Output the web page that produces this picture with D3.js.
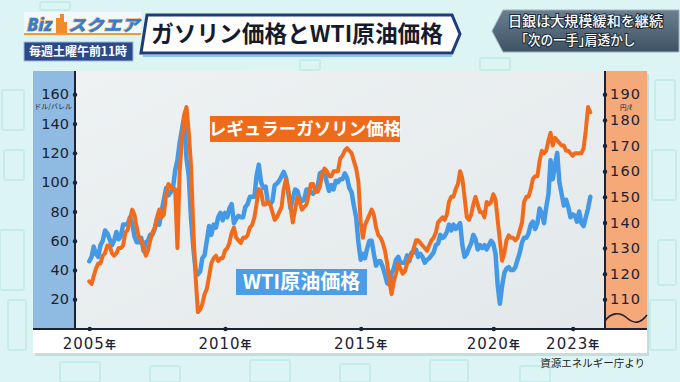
<!DOCTYPE html>
<html><head><meta charset="utf-8">
<script src="https://cdn.jsdelivr.net/npm/d3@7"></script>
<style>
html,body{margin:0;padding:0;background:#dcf5f4;}
svg{display:block;font-family:"Noto Sans CJK JP","Noto Sans",sans-serif;}
</style></head><body>
<svg id="c" width="680" height="382"></svg>
<script>
// ---- data (monthly, Jan 2005 .. Sep 2023) ----
const firstMonth = [2005, 0];
// WTI crude, USD/barrel (left axis)
const wti = [
  46, 49, 56, 51, 49, 57, 60, 67, 65, 61, 57, 60,
  66, 61, 63, 71, 71, 71, 76, 72, 63, 59, 59, 62,
  53, 59, 60, 64, 64, 68, 75, 71, 80, 88, 96, 91,
  93, 96,108,115,127,136,145,116,104, 75, 55, 40,
  37, 39, 48, 50, 60, 70, 64, 71, 69, 76, 79, 74,
  79, 76, 82, 85, 72, 75, 77, 76, 76, 83, 85, 90,
  90, 90,104,112,100, 96, 97, 86, 85, 87, 98, 99,
 101,104,107,103, 93, 82, 89, 95, 94, 89, 87, 88,
  95, 95, 93, 92, 95, 97,106,107,106,100, 94, 98,
  95,101,100,102,102,106,103, 96, 93, 84, 76, 59,
  47, 51, 48, 55, 60, 60, 51, 43, 46, 46, 42, 37,
  31, 30, 38, 41, 47, 49, 45, 45, 45, 50, 46, 52,
  52, 54, 49, 51, 49, 45, 47, 48, 50, 52, 57, 58,
  64, 62, 63, 66, 71, 67, 71, 68, 70, 72, 57, 49,
  51, 55, 58, 64, 61, 54, 57, 55, 57, 54, 57, 60,
  58, 51, 30, 17, 29, 38, 41, 42, 40, 40, 42, 47,
  52, 59, 62, 62, 65, 71, 73, 68, 72, 82, 79, 72,
  83, 92,115,102,112,120,100, 92, 84, 88, 83, 76,
  78, 77, 73, 80, 72, 70, 76, 82, 90
];
// Regular gasoline, yen/litre (right axis)
const gasoline = [
 117,116,119,122,124,124,127,128,131,131,128,127,
 128,130,130,131,136,137,141,145,143,138,134,133,
 130,127,129,133,136,138,142,145,142,143,151,155,
 154,153,153,130,160,172,182,185,175,162,137,119,
 105,106,108,112,114,119,124,126,127,125,126,126,
 129,130,132,136,138,134,133,132,134,134,135,138,
 139,142,147,153,152,147,147,148,147,144,141,142,
 144,146,153,157,153,146,140,145,150,148,145,146,
 147,151,155,155,152,152,154,159,161,160,158,158,
 160,160,160,165,166,168,169,168,167,164,161,156,
 140,134,139,141,143,145,143,138,135,134,132,129,
 124,117,112,117,120,124,122,120,121,124,126,127,
 130,133,133,132,131,130,129,131,133,134,136,140,
 141,142,141,143,148,150,150,153,155,160,157,150,
 142,141,143,147,150,147,144,144,142,148,147,148,
 151,149,141,133,125,128,133,135,134,134,133,134,
 137,140,148,150,150,153,157,158,158,164,168,167,
 168,172,175,170,173,172,171,170,170,168,168,167,
 166,167,167,167,167,169,176,185,183
];
const wtiTicks = [20, 40, 60, 80, 100, 120, 140, 160];
const gasTicks = [110, 120, 130, 140, 150, 160, 170, 180, 190];
const yearTicks = [2005, 2010, 2015, 2020, 2023];
const titleText = "ガソリン価格とWTI原油価格";
const headline = ["日銀は大規模緩和を継続", "｢次の一手｣肩透かし"];
const wtiLabel = "WTI原油価格";
const gasLabel = "レギュラーガソリン価格";

// ---- layout ----
const svg = d3.select("#c");
const P = {l: 33, r: 647, t: 71, b: 329, bottom: 353, ax: 75, axR: 605};
const ink = "#1b2235";
const blue = "#4399e6", orange = "#f06c1c";

const defs = svg.append("defs");
const g1 = defs.append("linearGradient").attr("id","plotbg").attr("x1",0).attr("y1",0).attr("x2",1).attr("y2",1);
g1.append("stop").attr("offset","0").attr("stop-color","#eef2f3");
g1.append("stop").attr("offset","1").attr("stop-color","#e3e8ea");
const g2 = defs.append("linearGradient").attr("id","slate").attr("x1",0).attr("y1",0).attr("x2",0).attr("y2",1);
g2.append("stop").attr("offset","0").attr("stop-color","#6b7f8f");
g2.append("stop").attr("offset","1").attr("stop-color","#3d5263");

// background decoration (faint building outlines)
const deco = svg.append("g").attr("fill","none").attr("stroke","#c4ece8").attr("stroke-width",1.8);
[[2,90,22,40],[4,150,20,30],[0,230,24,60],[8,300,18,50],[655,80,20,40],[652,150,24,50],[658,240,18,45],[650,300,26,50],
 [60,362,40,20],[150,366,30,16],[250,360,40,22],[340,364,30,18],[430,360,38,22],[520,366,30,16],
 [40,2,30,8],[480,58,30,12],[300,60,20,10]].forEach(r=>{
  deco.append("rect").attr("x",r[0]).attr("y",r[1]).attr("width",r[2]).attr("height",r[3]).attr("rx",2);
});

// panel
svg.append("rect").attr("x",P.l+2).attr("y",P.t+3).attr("width",P.r-P.l).attr("height",P.bottom-P.t)
  .attr("fill","rgba(60,110,110,0.16)");
svg.append("rect").attr("x",P.l).attr("y",P.t).attr("width",P.r-P.l).attr("height",P.bottom-P.t).attr("fill","#ffffff");
svg.append("rect").attr("x",P.l).attr("y",P.t).attr("width",P.ax-P.l).attr("height",P.b-P.t).attr("fill","#8fbbe2");
svg.append("rect").attr("x",P.axR).attr("y",P.t).attr("width",P.r-P.axR).attr("height",P.b-P.t).attr("fill","#f5a878");
svg.append("rect").attr("x",P.ax).attr("y",P.t).attr("width",P.axR-P.ax).attr("height",P.b-P.t).attr("fill","url(#plotbg)");

// scales
const dates = wti.map((_, i) => new Date(firstMonth[0], firstMonth[1] + i, 1));
const x = d3.scaleTime().domain(yearTicks.map(y => new Date(y, 0, 1))).range([89.3, 225, 360.7, 493.3, 572.7]);
const yL = d3.scaleLinear().domain([20, 160]).range([299.3, 94.3]);
const yR = d3.scaleLinear().domain([110, 190]).range([299.3, 94.3]);

// lines
const plot = svg.append("g");
plot.append("path").datum(wti.map((v,i)=>[dates[i],v]))
  .attr("fill","none").attr("stroke",blue).attr("stroke-width",4.5).attr("stroke-linejoin","round").attr("stroke-linecap","round")
  .attr("d", d3.line().x(d=>x(d[0])).y(d=>yL(d[1])));
plot.append("path").datum(gasoline.map((v,i)=>[dates[i],v]))
  .attr("fill","none").attr("stroke",orange).attr("stroke-width",4).attr("stroke-linejoin","round").attr("stroke-linecap","round")
  .attr("d", d3.line().x(d=>x(d[0])).y(d=>yR(d[1])));

// series labels
function boxLabel(txt, cx, cy, w, h, fill, fs){
  const g = svg.append("g");
  g.append("rect").attr("x",cx-w/2).attr("y",cy-h/2).attr("width",w).attr("height",h).attr("fill",fill);
  g.append("text").attr("x",cx).attr("y",cy).attr("dy","0.36em").attr("text-anchor","middle")
   .attr("fill","#fff").attr("font-weight",700).attr("font-size",fs).text(txt);
}
boxLabel(gasLabel, 305, 129, 190, 26, "#ee6b1b", 17.5);
boxLabel(wtiLabel, 301.5, 282, 131, 26, "#4a9de6", 20);

// axes lines
const axG = svg.append("g").attr("stroke",ink).attr("stroke-width",2);
axG.append("line").attr("x1",P.ax).attr("x2",P.ax).attr("y1",P.t).attr("y2",P.b);
axG.append("line").attr("x1",P.axR).attr("x2",P.axR).attr("y1",P.t).attr("y2",P.b);
axG.append("line").attr("x1",P.l).attr("x2",P.r).attr("y1",P.b).attr("y2",P.b);

function styleAxis(g, fs, ls){
  g.select(".domain").remove();
  g.selectAll(".tick line").remove();
  g.selectAll("text").attr("font-family","'DejaVu Sans',sans-serif").attr("font-size",fs)
    .attr("fill",ink).attr("letter-spacing",ls);
}
const aL = svg.append("g").attr("transform",`translate(${P.ax},0)`)
  .call(d3.axisLeft(yL).tickValues(wtiTicks).tickSize(0).tickPadding(6));
styleAxis(aL, 14.5, 0);
aL.selectAll(".tick").append("circle").attr("r",2.2).attr("fill",ink);

const aR = svg.append("g").attr("transform",`translate(${P.axR},0)`)
  .call(d3.axisRight(yR).tickValues(gasTicks).tickSize(0).tickPadding(5));
styleAxis(aR, 14.5, 1.2);
aR.selectAll(".tick").append("circle").attr("r",2.2).attr("fill",ink);

const aB = svg.append("g").attr("transform",`translate(0,${P.b})`)
  .call(d3.axisBottom(x).tickValues(yearTicks.map(y=>new Date(y,0,1))).tickSize(0).tickPadding(9));
styleAxis(aB, 15, 1);
aB.selectAll(".tick text").each(function(d){
  const t = d3.select(this); t.text("");
  t.append("tspan").text(d.getFullYear());
  t.append("tspan").attr("font-family","'Noto Sans CJK JP',sans-serif").attr("font-size",11).attr("font-weight",700).text("年");
});
aB.selectAll(".tick").append("circle").attr("r",2.2).attr("fill",ink);

// units
svg.append("text").attr("x",72).attr("y",109).attr("text-anchor","end").attr("font-size",7).attr("fill",ink).text("ドル/バレル");
svg.append("text").attr("x",626).attr("y",109.5).attr("text-anchor","middle").attr("font-size",6.5).attr("fill",ink).text("円/ℓ");

// axis break on right
svg.append("path").attr("d","M605,321 C611,312 620,312 627,318 S640,324 647,315")
  .attr("fill","none").attr("stroke",ink).attr("stroke-width",1.6);

// source
svg.append("text").attr("x",645).attr("y",367).attr("text-anchor","end").attr("font-size",10.5).attr("fill","#222").text("資源エネルギー庁より");

// ---- header ----
// title box
svg.append("polygon").attr("points","147,15 452,15 460,34 452,53 141,53")
  .attr("fill","#fff").attr("stroke","#1e3d78").attr("stroke-width",3);
svg.append("line").attr("x1",143).attr("x2",452).attr("y1",56).attr("y2",56).attr("stroke","#8fc3ea").attr("stroke-width",2);
svg.append("text").attr("x",151).attr("y",42).attr("font-size",23).attr("font-weight",700).attr("fill","#161b2b")
  .attr("textLength",292).attr("lengthAdjust","spacingAndGlyphs").text(titleText);

// logo
svg.append("rect").attr("x",24).attr("y",12).attr("width",117).attr("height",22).attr("fill","#f2f9fd");
svg.append("rect").attr("x",24).attr("y",33).attr("width",117).attr("height",2).attr("fill","#f29a30");
svg.append("text").attr("x",27).attr("y",31).attr("font-family","'Noto Sans',sans-serif").attr("font-size",18).attr("font-weight",800)
  .attr("font-style","italic").attr("fill","#2f7fd6").attr("stroke","#f2a43a").attr("stroke-width",1.2).attr("paint-order","stroke").text("Biz");
const bld = svg.append("g").attr("fill","#f08a2a");
bld.append("rect").attr("x",56).attr("y",18).attr("width",5).attr("height",15);
bld.append("rect").attr("x",60).attr("y",14).attr("width",4).attr("height",19);
bld.append("rect").attr("x",63).attr("y",22).attr("width",4).attr("height",11);
svg.append("text").attr("x",68).attr("y",31).attr("font-size",16).attr("font-weight",900).attr("font-style","italic")
  .attr("fill","#2f7fd6").attr("stroke","#f2a43a").attr("stroke-width",1).attr("paint-order","stroke")
  .attr("textLength",71).attr("lengthAdjust","spacingAndGlyphs").text("スクエア");
svg.append("rect").attr("x",24).attr("y",42).attr("width",109).attr("height",19).attr("fill","#2c4a8a").attr("stroke","#9fb8dc").attr("stroke-width",1);
svg.append("text").attr("x",29).attr("y",56).attr("font-size",12.5).attr("font-weight",700).attr("fill","#fff")
  .attr("textLength",98).attr("lengthAdjust","spacingAndGlyphs").text("毎週土曜午前11時");

// headline (top right)
svg.append("polygon").attr("points","492,31 503,10 679,10 679,52 503,52").attr("fill","url(#slate)").attr("stroke","#9fb2c0").attr("stroke-width",1);
const hl = svg.append("g").attr("fill","#fff").attr("stroke","#1d2a35").attr("stroke-width",2).attr("paint-order","stroke")
  .attr("font-size",13.5).attr("font-weight",500).attr("text-anchor","middle");
hl.append("text").attr("x",585.5).attr("y",26).attr("textLength",155).attr("lengthAdjust","spacingAndGlyphs").text(headline[0]);
hl.append("text").attr("x",578.5).attr("y",45).attr("textLength",114).attr("lengthAdjust","spacingAndGlyphs").text(headline[1]);
</script>
</body></html>
